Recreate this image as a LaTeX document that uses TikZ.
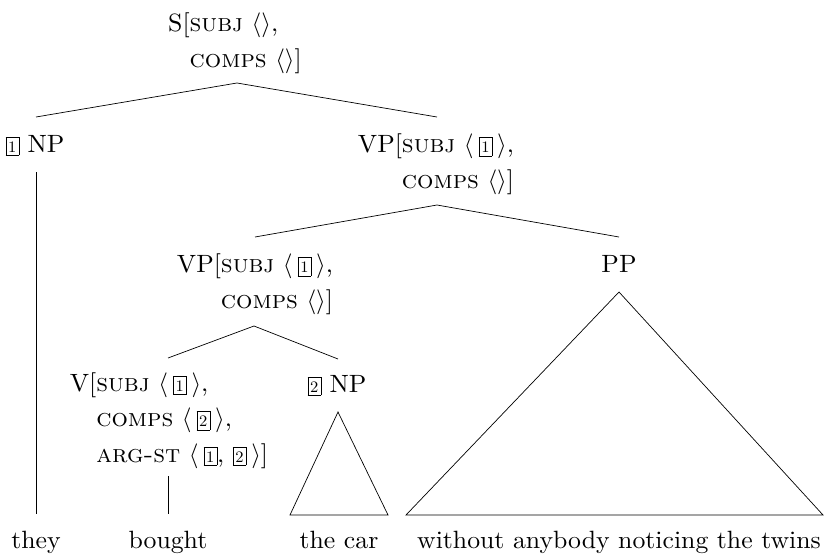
\documentclass[tikz,border=0pt]{standalone}
\usepackage{fontspec}
\setmainfont{lmroman10-regular.otf}[FakeStretch=1.03, SmallCapsFont=lmromancaps10-regular.otf, SmallCapsFeatures={FakeStretch=1.03}]
\newcommand{\tg}[1]{{\setlength{\fboxsep}{0pt}\setlength{\fboxrule}{0.5pt}\fbox{\makebox[12.5pt]{\rule[-3pt]{0pt}{18pt}\fontsize{16}{16}\selectfont #1}}}}
\newcommand{\la}{$\langle$}
\newcommand{\ra}{$\rangle$}
\newcommand{\gp}{\hspace{0.2em}}
\tikzset{
  lbl/.style={font=\fontsize{25}{35.5}\selectfont, inner sep=0pt, anchor=base},
  fs/.style={lbl, align=left},
  branch/.style={draw=black, line width=0.7pt},
}
\begin{document}
\begin{tikzpicture}[x=1pt,y=-1pt]
\useasboundingbox (0,0) rectangle (826,554);
% labels (multi-line nodes are anchored at the baseline of their last line)
\node[fs] (S) at (235,67) {S[\textsc{subj} \la\ra,\\\hphantom{S[}\textsc{comps} \la\ra]};
\node[lbl] (NP1) at (35,152) {\tg{1} NP};
\node[fs] (VP) at (436,188) {VP[\textsc{subj} \la\gp\tg{1}\gp\ra,\\\hphantom{VP[}\textsc{comps} \la\ra]};
\node[fs] (VP2) at (255,308) {VP[\textsc{subj} \la\gp\tg{1}\gp\ra,\\\hphantom{VP[}\textsc{comps} \la\ra]};
\node[lbl] (PP) at (619,272) {PP};
\node[fs] (V) at (169,462) {V[\textsc{subj} \la\gp\tg{1}\gp\ra,\\\hphantom{V[}\textsc{comps} \la\gp\tg{2}\gp\ra,\\\hphantom{V[}\textsc{arg-st} \la\gp\tg{1}, \tg{2}\gp\ra]};
\node[lbl] (NP2) at (337,392) {\tg{2} NP};
% words
\node[lbl] (w1) at (36,548) {they};
\node[lbl] (w2) at (168,548) {bought};
\node[lbl] (w3) at (339,548) {the car};
\node[lbl] (w4) at (619,548) {without anybody noticing the twins};
% connection points
\coordinate (S-b) at (237,83);
\coordinate (NP1-t) at (36,117);
\coordinate (NP1-b) at (36,172);
\coordinate (they-t) at (36,514);
\coordinate (VP-t) at (437,117);
\coordinate (VP-b) at (437,205);
\coordinate (VP2-t) at (255,237);
\coordinate (PP-t) at (619,237);
\coordinate (VP2-b) at (254,326);
\coordinate (V-t) at (168,358);
\coordinate (NP2-t) at (338,359);
\coordinate (V-b) at (168,476);
\coordinate (bought-t) at (168,514);
\coordinate (NP2-apex) at (338,412);
\coordinate (car-l) at (290,515);
\coordinate (car-r) at (388,515);
\coordinate (PP-apex) at (619,292);
\coordinate (pp-l) at (406,515);
\coordinate (pp-r) at (823,515);
% branches
\draw[branch] (NP1-t) -- (S-b) -- (VP-t);
\draw[branch] (NP1-b) -- (they-t);
\draw[branch] (VP2-t) -- (VP-b) -- (PP-t);
\draw[branch] (V-t) -- (VP2-b) -- (NP2-t);
\draw[branch] (V-b) -- (bought-t);
\draw[branch] (NP2-apex) -- (car-r) -- (car-l) -- cycle;
\draw[branch] (PP-apex) -- (pp-r) -- (pp-l) -- cycle;
\end{tikzpicture}
\end{document}
